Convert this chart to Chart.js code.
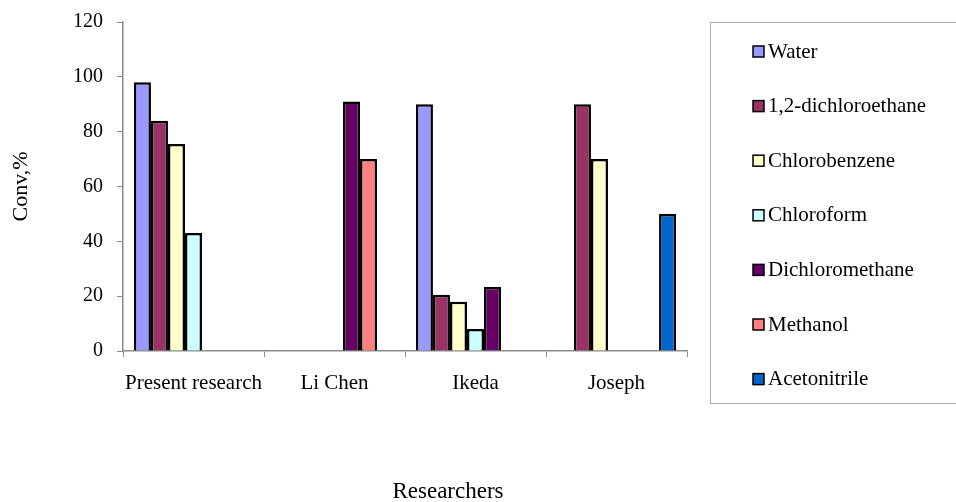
<!DOCTYPE html>
<html><head><meta charset="utf-8">
<script src="https://cdn.jsdelivr.net/npm/chart.js@4/dist/chart.umd.min.js"></script>
<style>html,body{margin:0;padding:0;background:#fff}#wrap{width:956px;height:502px}</style>
</head><body><div id="wrap"><canvas id="c" width="956" height="502"></canvas></div>
<script>
const categories = ['Present research', 'Li Chen', 'Ikeda', 'Joseph'];
const seriesNames = ['Water', '1,2-dichloroethane', 'Chlorobenzene', 'Chloroform', 'Dichloromethane', 'Methanol', 'Acetonitrile'];
const water = [98, null, 90, null];
const dichloroethane = [84, null, 20.5, 90];
const chlorobenzene = [75.5, null, 18, 70];
const chloroform = [43, null, 8, null];
const dichloromethane = [null, 91, 23.3, null];
const methanol = [null, 70, null, null];
const acetonitrile = [null, null, null, 50];
const yTicks = [0, 20, 40, 60, 80, 100, 120];
const xTitle = 'Researchers';
const yTitle = 'Conv,%';

const seriesValues = [water, dichloroethane, chlorobenzene, chloroform, dichloromethane, methanol, acetonitrile];
const colors = ['#9999FF', '#993366', '#FFFFCC', '#CCFFFF', '#660066', '#FF8080', '#0066CC'];
const FONT = '"Liberation Serif", "Times New Roman", serif';
const axisColor = '#8c8c8c';

const extras = {
  id: 'extras',
  afterDraw(chart) {
    const ctx = chart.ctx;
    ctx.save();
    // legend box
    ctx.strokeStyle = '#b0b0b0';
    ctx.lineWidth = 1;
    ctx.strokeRect(710.5, 22.5, 260, 381);
    ctx.font = '21px ' + FONT;
    ctx.textBaseline = 'middle';
    ctx.textAlign = 'left';
    chart.data.datasets.forEach((ds, i) => {
      const cy = 51 + i * 54.6;
      ctx.fillStyle = ds.backgroundColor;
      ctx.fillRect(753, cy - 5, 11, 11);
      ctx.strokeStyle = '#000';
      ctx.lineWidth = 1.5;
      ctx.strokeRect(753, cy - 5, 11, 11);
      ctx.fillStyle = '#000';
      ctx.fillText(ds.label, 768, cy + 1);
    });
    // x-axis title
    ctx.font = '23px ' + FONT;
    ctx.textAlign = 'center';
    ctx.fillText(xTitle, 448, 492);
    ctx.restore();
  }
};

new Chart(document.getElementById('c'), {
  type: 'bar',
  data: {
    labels: categories,
    datasets: seriesNames.map((n, i) => ({
      label: n,
      data: seriesValues[i],
      backgroundColor: colors[i],
      borderColor: '#000',
      borderWidth: 2.5,
      barPercentage: 1,
      categoryPercentage: 0.845
    }))
  },
  options: {
    responsive: false,
    animation: false,
    devicePixelRatio: 1,
    layout: { padding: { top: 22, right: 269, bottom: 0, left: 0 } },
    plugins: { legend: { display: false }, tooltip: { enabled: false } },
    scales: {
      x: {
        grid: { display: true, drawOnChartArea: false, offset: true, color: axisColor, tickLength: 6, tickColor: axisColor },
        border: { color: axisColor, width: 1.5 },
        ticks: { color: '#000', font: { family: FONT, size: 21 }, padding: 14, maxRotation: 0 },
        afterFit(s) { s.height = 151; }
      },
      y: {
        min: 0, max: 120,
        afterBuildTicks(s) { s.ticks = yTicks.map(v => ({ value: v })); },
        grid: { display: true, drawOnChartArea: false, color: axisColor, tickLength: 6, tickColor: axisColor },
        border: { color: axisColor, width: 1.5 },
        ticks: { color: '#000', font: { family: FONT, size: 20 }, padding: 14 },
        title: { display: true, text: yTitle, color: '#000', font: { family: FONT, size: 22 }, padding: { top: 8, bottom: 0 } },
        afterFit(s) { s.width = 123; s.paddingTop = 10; s.paddingBottom = 10; }
      }
    }
  },
  plugins: [extras]
});
</script></body></html>
